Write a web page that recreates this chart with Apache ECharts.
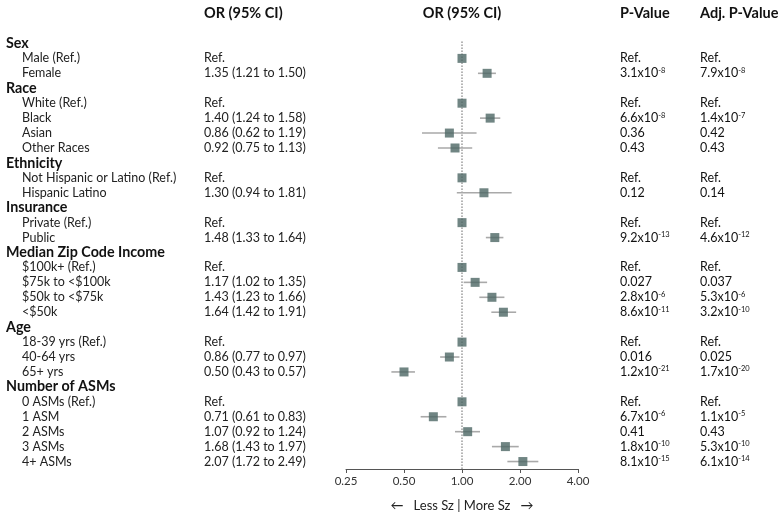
<!DOCTYPE html>
<html>
<head>
<meta charset="utf-8">
<script src="https://cdn.jsdelivr.net/npm/echarts@6/dist/echarts.min.js"></script>
<style>html,body{margin:0;padding:0;background:#fff;}#c{width:780px;height:517px;}</style>
</head>
<body>
<div id="c"></div>
<script>
const rowLabels = ['Sex','Male (Ref.)','Female','Race','White (Ref.)','Black','Asian','Other Races','Ethnicity','Not Hispanic or Latino (Ref.)','Hispanic Latino','Insurance','Private (Ref.)','Public','Median Zip Code Income','$100k+ (Ref.)','$75k to <$100k','$50k to <$75k','<$50k','Age','18-39 yrs (Ref.)','40-64 yrs','65+ yrs','Number of ASMs','0 ASMs (Ref.)','1 ASM','2 ASMs','3 ASMs','4+ ASMs'];
const headerRows = ['Sex','Race','Ethnicity','Insurance','Median Zip Code Income','Age','Number of ASMs'];
const orValues = [null,1,1.35,null,1,1.40,0.86,0.92,null,1,1.30,null,1,1.48,null,1,1.17,1.43,1.64,null,1,0.86,0.50,null,1,0.71,1.07,1.68,2.07];
const ciLow =   [null,null,1.21,null,null,1.24,0.62,0.75,null,null,0.94,null,null,1.33,null,null,1.02,1.23,1.42,null,null,0.77,0.43,null,null,0.61,0.92,1.43,1.72];
const ciHigh =  [null,null,1.50,null,null,1.58,1.19,1.13,null,null,1.81,null,null,1.64,null,null,1.35,1.66,1.91,null,null,0.97,0.57,null,null,0.83,1.24,1.97,2.49];
const orText = ['','Ref.','1.35 (1.21 to 1.50)','','Ref.','1.40 (1.24 to 1.58)','0.86 (0.62 to 1.19)','0.92 (0.75 to 1.13)','','Ref.','1.30 (0.94 to 1.81)','','Ref.','1.48 (1.33 to 1.64)','','Ref.','1.17 (1.02 to 1.35)','1.43 (1.23 to 1.66)','1.64 (1.42 to 1.91)','','Ref.','0.86 (0.77 to 0.97)','0.50 (0.43 to 0.57)','','Ref.','0.71 (0.61 to 0.83)','1.07 (0.92 to 1.24)','1.68 (1.43 to 1.97)','2.07 (1.72 to 2.49)'];
const pValues = ['','Ref.','3.1x10^-8','','Ref.','6.6x10^-8','0.36','0.43','','Ref.','0.12','','Ref.','9.2x10^-13','','Ref.','0.027','2.8x10^-6','8.6x10^-11','','Ref.','0.016','1.2x10^-21','','Ref.','6.7x10^-6','0.41','1.8x10^-10','8.1x10^-15'];
const adjPValues = ['','Ref.','7.9x10^-8','','Ref.','1.4x10^-7','0.42','0.43','','Ref.','0.14','','Ref.','4.6x10^-12','','Ref.','0.037','5.3x10^-6','3.2x10^-10','','Ref.','0.025','1.7x10^-20','','Ref.','1.1x10^-5','0.43','5.3x10^-10','6.1x10^-14'];
const xTicks = [0.25, 0.5, 1, 2, 4];
const columnHeaders = ['OR (95% CI)', 'OR (95% CI)', 'P-Value', 'Adj. P-Value'];
const axisTitle = '\u2190   Less Sz | More Sz   \u2192';

const FONT = 'Lato';
const idx = rowLabels.map((_, i) => i);
const pointData = orValues.map((v, i) => v == null ? null : [v, i]).filter(d => d);
const ciData = ciLow.map((v, i) => v == null ? null : [v, ciHigh[i], i]).filter(d => d);

function pFmt(s) {
  if (!s) return '';
  const m = s.split('^');
  if (m.length === 2) return '{n|' + m[0] + '}{s|' + m[1] + '}';
  return '{n|' + s + '}';
}
const pRich = {
  n: { fontFamily: FONT, fontSize: 12.5, color: '#111', lineHeight: 14 },
  s: { fontFamily: FONT, fontSize: 7.5, color: '#111', verticalAlign: 'top', lineHeight: 10 }
};

const baseY = {
  type: 'category', data: idx, inverse: true, gridIndex: 0,
  axisLine: { show: false }, axisTick: { show: false }, splitLine: { show: false }
};
const headStyle = { fontFamily: FONT, fontSize: 14.5, fontWeight: 'bold', color: '#111' };

const chart = echarts.init(document.getElementById('c'));
chart.setOption({
  animation: false,
  backgroundColor: '#fff',
  title: [
    { text: columnHeaders[0], left: 204, top: 6, padding: 0, textStyle: headStyle },
    { text: columnHeaders[1], left: 462, textAlign: 'center', top: 6, padding: 0, textStyle: headStyle },
    { text: columnHeaders[2], left: 620, top: 6, padding: 0, textStyle: headStyle },
    { text: columnHeaders[3], left: 700, top: 6, padding: 0, textStyle: headStyle }
  ],
  grid: { left: 346, right: 202, top: 36, bottom: 43 },
  xAxis: {
    type: 'log', logBase: 2, min: 0.25, max: 4,
    axisLine: { show: true, lineStyle: { color: '#555', width: 1 } },
    axisTick: { show: true, length: 4, lineStyle: { color: '#555' } },
    splitLine: { show: false },
    axisLabel: { fontFamily: FONT, fontSize: 11.5, color: '#333', margin: 6,
      formatter: v => { const t = xTicks.find(x => Math.abs(x - v) < 1e-6); return t != null ? t.toFixed(2) : ''; } },
    name: axisTitle, nameLocation: 'middle', nameGap: 30,
    nameTextStyle: { fontFamily: FONT, fontSize: 13, color: '#222' }
  },
  yAxis: [
    Object.assign({}, baseY, { position: 'left', axisLabel: {
      align: 'left', margin: 340, interval: 0,
      formatter: v => headerRows.includes(rowLabels[v]) ? '{h|' + rowLabels[v] + '}' : '{i|' + rowLabels[v] + '}',
      rich: {
        h: { fontFamily: FONT, fontSize: 14.3, fontWeight: 'bold', color: '#111' },
        i: { fontFamily: FONT, fontSize: 12.5, color: '#222', padding: [0, 0, 0, 16] }
      } } }),
    Object.assign({}, baseY, { position: 'left', axisLabel: {
      align: 'left', margin: 142, interval: 0,
      formatter: v => orText[v], fontFamily: FONT, fontSize: 12.5, color: '#222' } }),
    Object.assign({}, baseY, { position: 'right', axisLabel: {
      align: 'left', margin: 42, interval: 0, formatter: v => pFmt(pValues[v]), rich: pRich } }),
    Object.assign({}, baseY, { position: 'right', axisLabel: {
      align: 'left', margin: 122, interval: 0, formatter: v => pFmt(adjPValues[v]), rich: pRich } })
  ],
  series: [
    {
      type: 'custom', xAxisIndex: 0, yAxisIndex: 0, silent: true, z: 1,
      data: [[1, 0]],
      renderItem: (params, api) => {
        const p = api.coord([api.value(0), api.value(1)]);
        const cs = params.coordSys;
        return { type: 'line', shape: { x1: p[0], y1: p[1] - 2, x2: p[0], y2: cs.y + cs.height },
          style: { stroke: '#666', lineWidth: 1, lineDash: [1.5, 1.5] } };
      }
    },
    {
      type: 'custom', xAxisIndex: 0, yAxisIndex: 0, silent: true, z: 2,
      data: ciData,
      renderItem: (params, api) => {
        const a = api.coord([api.value(0), api.value(2)]);
        const b = api.coord([api.value(1), api.value(2)]);
        return { type: 'line', shape: { x1: a[0], y1: a[1], x2: b[0], y2: b[1] },
          style: { stroke: '#a9a9a9', lineWidth: 1.6 } };
      }
    },
    {
      type: 'scatter', xAxisIndex: 0, yAxisIndex: 0, z: 3,
      symbol: 'rect', symbolSize: 9,
      itemStyle: { color: '#4c6664' },
      data: pointData
    }
  ]
});
</script>
</body>
</html>
